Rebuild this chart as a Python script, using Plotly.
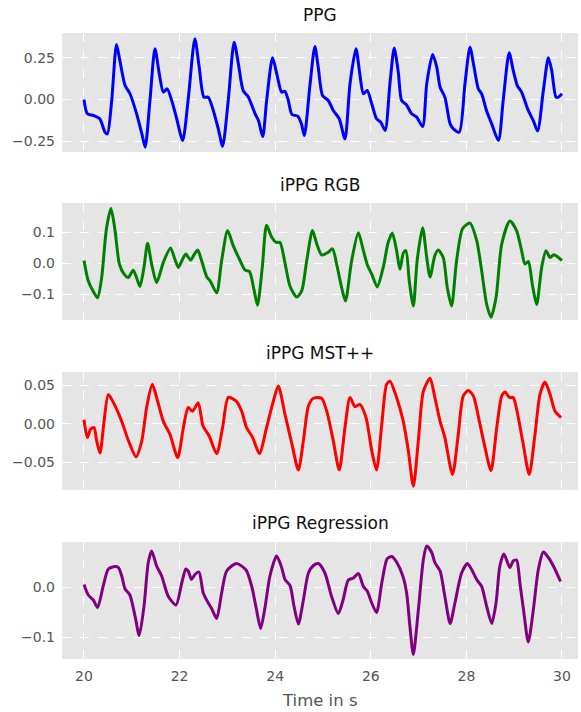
import plotly.graph_objects as go

# ---------------- data ----------------
ppg_t = [20.0, 20.07, 20.195, 20.33, 20.44, 20.49, 20.58, 20.68, 20.75, 20.86, 20.96, 21.10, 21.21, 21.28,
         21.38, 21.485, 21.575, 21.66, 21.74, 21.835, 21.94, 22.065, 22.18, 22.32, 22.41, 22.51, 22.60,
         22.705, 22.81, 22.90, 23.02, 23.14, 23.23, 23.33, 23.44, 23.58, 23.65, 23.74, 23.82, 23.945,
         24.04, 24.135, 24.20, 24.27, 24.35, 24.47, 24.55, 24.61, 24.73, 24.83, 24.90, 24.99, 25.11,
         25.215, 25.34, 25.46, 25.565, 25.69, 25.77, 25.845, 25.925, 26.02, 26.12, 26.21, 26.30, 26.40,
         26.49, 26.575, 26.645, 26.74, 26.855, 26.96, 27.085, 27.17, 27.295, 27.38, 27.45, 27.55, 27.66,
         27.73, 27.85, 27.97, 28.075, 28.16, 28.25, 28.32, 28.42, 28.53, 28.67, 28.77, 28.895, 28.98,
         29.065, 29.155, 29.295, 29.40, 29.49, 29.61, 29.715, 29.785, 29.875, 29.925, 30.0]
ppg_v = [0.0, -0.086, -0.096, -0.116, -0.197, -0.207, -0.006, 0.331, 0.235, 0.084, 0.036, -0.085, -0.206, -0.287,
         -0.006, 0.305, 0.155, 0.044, 0.064, -0.006, -0.116, -0.247, 0.0, 0.366, 0.195, 0.014, 0.014,
         -0.066, -0.177, -0.281, 0.0, 0.345, 0.215, 0.054, 0.014, -0.086, -0.127, -0.223, -0.01, 0.251,
         0.145, 0.044, 0.05, 0.0, -0.09, -0.1, -0.147, -0.217, 0.094, 0.319, 0.195, 0.024, -0.006,
         -0.066, -0.116, -0.237, 0.094, 0.305, 0.155, 0.034, 0.054, -0.026, -0.116, -0.137, -0.187, 0.094,
         0.309, 0.165, -0.006, -0.03, -0.086, -0.106, -0.163, 0.094, 0.271, 0.195, 0.074, 0.014, -0.147,
         -0.177, -0.197, 0.094, 0.315, 0.195, 0.064, 0.034, -0.066, -0.147, -0.247, -0.006, 0.281, 0.175,
         0.084, 0.044, -0.066, -0.127, -0.19, 0.054, 0.251, 0.175, 0.014, 0.014, 0.034]

rgb_t = [20.0, 20.09, 20.195, 20.285, 20.37, 20.47, 20.565, 20.65, 20.74, 20.84, 20.925, 21.03, 21.10, 21.17,
         21.255, 21.33, 21.415, 21.52, 21.66, 21.81, 21.90, 21.975, 22.065, 22.13, 22.23, 22.31, 22.38,
         22.46, 22.57, 22.64, 22.775, 22.88, 23.005, 23.12, 23.25, 23.37, 23.46, 23.555, 23.63, 23.73,
         23.82, 23.925, 24.02, 24.10, 24.205, 24.31, 24.45, 24.555, 24.66, 24.78, 24.87, 24.975, 25.11,
         25.20, 25.285, 25.39, 25.47, 25.60, 25.74, 25.845, 25.93, 26.02, 26.135, 26.26, 26.365, 26.45,
         26.54, 26.61, 26.68, 26.735, 26.805, 26.89, 26.97, 27.085, 27.17, 27.24, 27.34, 27.41, 27.515,
         27.60, 27.69, 27.795, 27.92, 28.075, 28.215, 28.32, 28.425, 28.515, 28.62, 28.74, 28.91, 29.05,
         29.155, 29.225, 29.295, 29.385, 29.47, 29.575, 29.665, 29.75, 29.83, 29.90, 30.0]
rgb_v = [0.008, -0.058, -0.092, -0.112, -0.047, 0.111, 0.176, 0.105, -0.003, -0.036, -0.047, -0.023, -0.047, -0.076,
         -0.014, 0.064, -0.003, -0.063, 0.002, 0.049, 0.013, -0.014, 0.013, 0.029, 0.01, 0.029, 0.042,
         0.008, -0.045, -0.058, -0.096, 0.008, 0.105, 0.057, 0.013, -0.023, -0.027, -0.085, -0.136, -0.014,
         0.122, 0.084, 0.067, 0.067, 0.0, -0.075, -0.11, -0.09, 0.008, 0.105, 0.062, 0.026, 0.035,
         0.046, -0.003, -0.079, -0.123, 0.008, 0.098, 0.04, -0.007, -0.036, -0.077, -0.014, 0.067, 0.097,
         0.04, -0.02, 0.032, 0.04, -0.058, -0.139, 0.008, 0.114, 0.018, -0.045, 0.024, 0.042, 0.018,
         -0.079, -0.139, 0.008, 0.111, 0.129, 0.073, -0.025, -0.134, -0.175, -0.112, 0.062, 0.136, 0.105,
         0.04, -0.003, 0.005, -0.074, -0.134, -0.014, 0.04, 0.018, 0.027, 0.021, 0.008]

mst_t = [20.0, 20.07, 20.14, 20.21, 20.265, 20.335, 20.42, 20.51, 20.65, 20.79, 20.93, 21.09, 21.21, 21.31,
         21.43, 21.52, 21.66, 21.80, 21.96, 22.08, 22.18, 22.27, 22.39, 22.49, 22.62, 22.775, 22.90,
         23.02, 23.19, 23.30, 23.40, 23.53, 23.67, 23.82, 23.96, 24.065, 24.205, 24.345, 24.485, 24.59,
         24.695, 24.80, 24.97, 25.08, 25.215, 25.34, 25.46, 25.565, 25.67, 25.77, 25.90, 26.02, 26.12,
         26.23, 26.33, 26.40, 26.54, 26.68, 26.785, 26.89, 26.995, 27.10, 27.24, 27.34, 27.45, 27.55,
         27.71, 27.83, 27.935, 28.04, 28.145, 28.285, 28.39, 28.515, 28.635, 28.74, 28.81, 28.90, 28.98,
         29.085, 29.19, 29.315, 29.435, 29.54, 29.645, 29.75, 29.855, 29.98]
mst_v = [0.005, -0.018, -0.007, -0.005, -0.022, -0.038, 0.003, 0.038, 0.023, 0.003, -0.022, -0.043, -0.022, 0.021,
         0.051, 0.034, 0.003, -0.014, -0.044, -0.005, 0.021, 0.016, 0.027, -0.003, -0.016, -0.039, -0.005,
         0.034, 0.029, 0.016, -0.005, -0.018, -0.039, -0.005, 0.029, 0.049, 0.012, -0.025, -0.06, -0.022,
         0.023, 0.033, 0.033, 0.016, -0.022, -0.06, -0.005, 0.034, 0.022, 0.025, 0.008, -0.035, -0.06,
         -0.001, 0.051, 0.055, 0.034, 0.003, -0.035, -0.081, -0.022, 0.042, 0.059, 0.034, 0.003, -0.018,
         -0.066, -0.014, 0.036, 0.043, 0.036, -0.001, -0.031, -0.061, -0.005, 0.036, 0.041, 0.034, 0.034,
         0.008, -0.027, -0.066, -0.014, 0.038, 0.054, 0.038, 0.016, 0.008]

reg_t = [20.0, 20.09, 20.195, 20.285, 20.40, 20.51, 20.65, 20.72, 20.79, 20.86, 20.96, 21.07, 21.155, 21.255,
         21.345, 21.415, 21.52, 21.625, 21.765, 21.925, 22.045, 22.13, 22.18, 22.25, 22.32, 22.405, 22.495,
         22.60, 22.67, 22.775, 22.88, 22.985, 23.19, 23.39, 23.51, 23.61, 23.695, 23.79, 23.89, 24.03,
         24.135, 24.205, 24.31, 24.395, 24.485, 24.59, 24.695, 24.80, 24.905, 25.04, 25.18, 25.32, 25.42,
         25.53, 25.635, 25.74, 25.845, 25.93, 26.02, 26.12, 26.23, 26.345, 26.44, 26.545, 26.67, 26.75,
         26.82, 26.89, 26.995, 27.10, 27.17, 27.275, 27.34, 27.45, 27.55, 27.66, 27.76, 27.90, 28.02,
         28.11, 28.215, 28.32, 28.425, 28.53, 28.62, 28.70, 28.785, 28.91, 28.98, 29.05, 29.12, 29.205,
         29.295, 29.40, 29.505, 29.61, 29.715, 29.82, 29.97]
reg_v = [0.005, -0.016, -0.026, -0.041, 0.001, 0.036, 0.041, 0.039, 0.022, -0.004, -0.016, -0.059, -0.097, -0.039,
         0.049, 0.072, 0.042, 0.022, -0.019, -0.036, 0.008, 0.036, 0.032, 0.015, 0.025, 0.03, -0.012,
         -0.032, -0.043, -0.063, -0.012, 0.032, 0.047, 0.034, 0.001, -0.046, -0.083, -0.039, 0.022, 0.062,
         0.039, 0.015, 0.003, -0.039, -0.074, -0.026, 0.028, 0.043, 0.047, 0.028, -0.019, -0.053, -0.026,
         0.014, 0.018, 0.027, 0.001, -0.009, -0.032, -0.051, 0.008, 0.057, 0.061, 0.049, 0.022, -0.012,
         -0.08, -0.135, -0.046, 0.055, 0.082, 0.069, 0.049, 0.032, -0.019, -0.073, -0.032, 0.028, 0.047,
         0.035, 0.015, 0.001, -0.039, -0.073, -0.032, 0.042, 0.066, 0.039, 0.052, 0.054, 0.008, -0.053,
         -0.11, -0.046, 0.035, 0.07, 0.059, 0.042, 0.011]

titles = ["PPG", "iPPG RGB", "iPPG MST++", "iPPG Regression"]
x_ticks = [20, 22, 24, 26, 28, 30]
x_label = "Time in s"

y_ticks = [[-0.25, 0.0, 0.25], [-0.1, 0.0, 0.1], [-0.05, 0.0, 0.05], [-0.1, 0.0]]
y_ticktext = [["−0.25", "0.00", "0.25"], ["−0.1", "0.0", "0.1"], ["−0.05", "0.00", "0.05"], ["−0.1", "0.0"]]

# ---------------- styling / layout ----------------
W, H = 581, 712
colors = ["#0000FF", "#008000", "#FF0000", "#800080"]
series = [(ppg_t, ppg_v), (rgb_t, rgb_v), (mst_t, mst_v), (reg_t, reg_v)]
# pixel positions (top, bottom) of each plot panel
panels_px = [(33, 152), (203, 320), (372, 490), (542, 659)]
y_ranges = [(-0.316, 0.40), (-0.184, 0.194), (-0.086, 0.067), (-0.144, 0.09)]
title_px = [15, 185, 353, 523]
FONT = "DejaVu Sans"

fig = go.Figure()
layout = dict(
    width=W, height=H,
    margin=dict(l=62, r=3, t=0, b=0),
    paper_bgcolor="white",
    plot_bgcolor="#E5E5E5",
    showlegend=False,
    font=dict(family=FONT, size=14, color="#555555"),
)

annotations = []
for i, ((t, v), c) in enumerate(zip(series, colors)):
    n = i + 1
    xa = "x" if n == 1 else f"x{n}"
    ya = "y" if n == 1 else f"y{n}"
    fig.add_trace(go.Scatter(x=t, y=v, mode="lines",
                             line=dict(color=c, width=3, shape="spline", smoothing=0.7),
                             xaxis=xa, yaxis=ya, hoverinfo="skip"))
    top, bot = panels_px[i]
    dom = [1 - bot / H, 1 - top / H]
    xkey = "xaxis" if n == 1 else f"xaxis{n}"
    ykey = "yaxis" if n == 1 else f"yaxis{n}"
    layout[xkey] = dict(
        domain=[0, 1], anchor=ya, range=[19.54, 30.335],
        tickvals=x_ticks, ticktext=[str(x) for x in x_ticks],
        showticklabels=(n == 4), showgrid=True, gridcolor="white", gridwidth=1, griddash="dash",
        zeroline=False, showline=False, ticks="", automargin=False, ticklabelstandoff=7,
        tickfont=dict(size=14, color="#555555", family=FONT),
    )
    layout[ykey] = dict(
        domain=dom, anchor=xa, range=list(y_ranges[i]),
        tickvals=y_ticks[i], ticktext=y_ticktext[i],
        showgrid=True, gridcolor="white", gridwidth=1, griddash="dash",
        zeroline=False, showline=False, ticks="", automargin=False, ticklabelstandoff=6,
        tickfont=dict(size=14, color="#555555", family=FONT),
    )
    annotations.append(dict(text=titles[i], x=0.5, xref="paper", y=1 - title_px[i] / H, yref="paper",
                            showarrow=False, xanchor="center", yanchor="middle",
                            font=dict(size=17, color="#111111", family=FONT)))

annotations.append(dict(text=x_label, x=0.5, xref="paper", y=1 - 700 / H, yref="paper",
                        showarrow=False, xanchor="center", yanchor="middle",
                        font=dict(size=16.5, color="#555555", family=FONT)))
layout["annotations"] = annotations
fig.update_layout(**layout)
fig.write_html("out.html", config={"displayModeBar": False},
               post_script="document.body.style.margin='0px';document.body.style.overflow='hidden';")
